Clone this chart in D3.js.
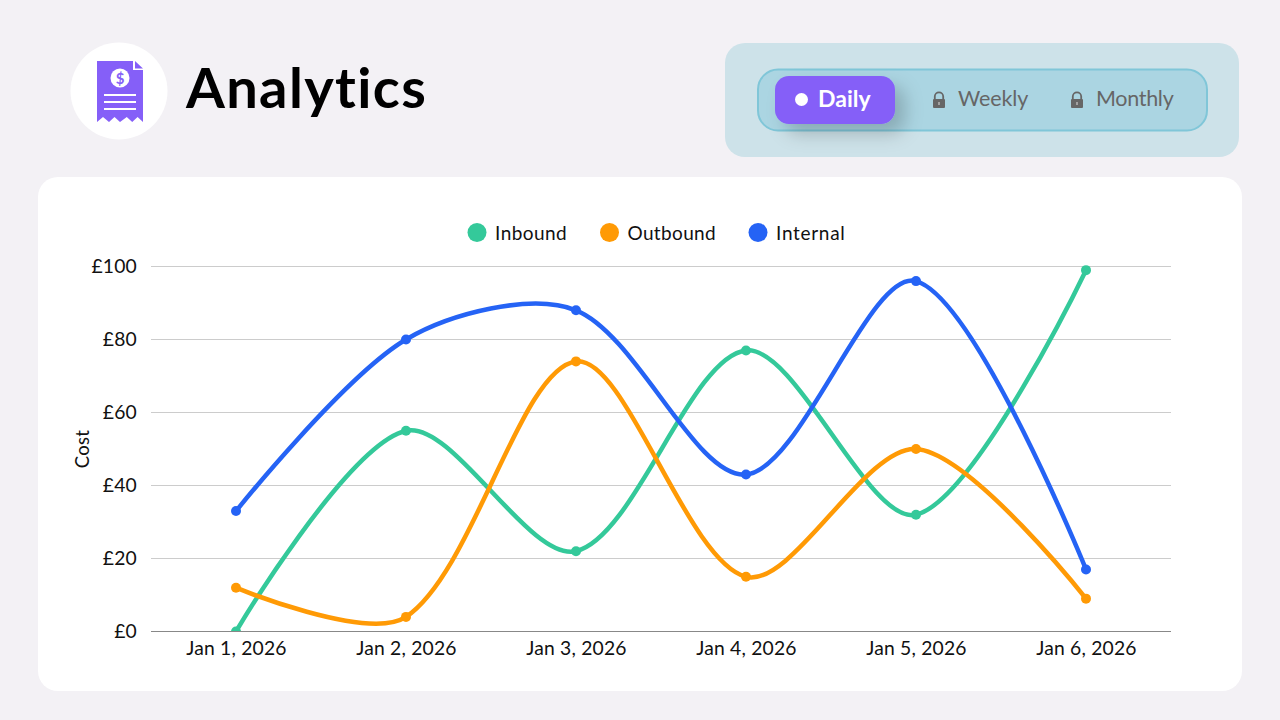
<!DOCTYPE html>
<html><head><meta charset="utf-8">
<script src="https://cdnjs.cloudflare.com/ajax/libs/d3/7.8.5/d3.min.js"></script>
<style>
html,body{margin:0;padding:0;background:#f3f1f5;width:1280px;height:720px;overflow:hidden}
svg{display:block}
text{font-family:Lato,"Open Sans",sans-serif;font-variant-ligatures:none}
</style></head><body>
<svg id="c" width="1280" height="720"></svg>
<script>
const categories=["Jan 1, 2026","Jan 2, 2026","Jan 3, 2026","Jan 4, 2026","Jan 5, 2026","Jan 6, 2026"];
const inbound=[0,55,22,77,32,99];
const outbound=[12,4,74,15,50,9];
const internal=[33,80,88,43,96,17];
const yTicks=[0,20,40,60,80,100];
const seriesNames=["Inbound","Outbound","Internal"];
const seriesColors=["#34c99a","#ff9a05","#2563f5"];
const seriesValues=[inbound,outbound,internal];
const toggleLabels=["Daily","Weekly","Monthly"];

// distance-weighted smoothing spline as a d3 curve factory
function smoothCurve(context,t=0.31){
  let pts;
  return {
    areaStart(){},areaEnd(){},
    lineStart(){pts=[];},
    point(x,y){pts.push([+x,+y]);},
    lineEnd(){
      const n=pts.length, c=[];
      for(let i=1;i<n-1;i++){
        const [x0,y0]=pts[i-1],[x1,y1]=pts[i],[x2,y2]=pts[i+1];
        const a=Math.hypot(x1-x0,y1-y0),b=Math.hypot(x2-x1,y2-y1);
        const fa=t*a/(a+b),fb=t*b/(a+b);
        c[i]=[[x1-fa*(x2-x0),y1-fa*(y2-y0)],[x1+fb*(x2-x0),y1+fb*(y2-y0)]];
      }
      context.moveTo(pts[0][0],pts[0][1]);
      for(let i=1;i<n;i++){
        const c1=i===1?pts[0]:c[i-1][1], c2=i===n-1?pts[n-1]:c[i][0];
        context.bezierCurveTo(c1[0],c1[1],c2[0],c2[1],pts[i][0],pts[i][1]);
      }
    }
  };
}

const svg=d3.select("#c");
const defs=svg.append("defs");
const f=defs.append("filter").attr("id","sh").attr("x","-40%").attr("y","-60%").attr("width","200%").attr("height","240%");
f.append("feDropShadow").attr("dx",10).attr("dy",10).attr("stdDeviation",9).attr("flood-color","#000").attr("flood-opacity",.2);
defs.append("clipPath").attr("id","plot").append("rect").attr("x",0).attr("y",200).attr("width",1280).attr("height",431);

// header
svg.append("circle").attr("cx",119).attr("cy",91).attr("r",48.500).attr("fill","#fff");
const ic=svg.append("g");
ic.append("path").attr("fill","#855ff8").attr("d","M97 61H133V70H143V122L137.600 117L132.200 122L126.800 117L120 122L114.500 117L109 122L103 117L97 122Z");
ic.append("path").attr("fill","#855ff8").attr("d","M135 61L143 68.500H135Z");
ic.append("circle").attr("cx",120).attr("cy",78).attr("r",9.500).attr("fill","#fff");
ic.append("text").attr("x",120).attr("y",83.500).attr("text-anchor","middle").attr("font-size",15).attr("font-weight",700).attr("fill","#855ff8").text("$");
[95,102,109].forEach(y=>ic.append("rect").attr("x",104).attr("y",y-1).attr("width",32).attr("height",2).attr("fill","#fff"));
svg.append("text").attr("x",186).attr("y",108).attr("font-size",56).attr("font-weight",700).attr("letter-spacing",1.350).attr("fill","#000").text("Analytics");

// toggle
svg.append("rect").attr("x",725).attr("y",43).attr("width",514).attr("height",114).attr("rx",20).attr("fill","#cde2e9");
svg.append("rect").attr("x",758).attr("y",69.500).attr("width",449).attr("height",61).attr("rx",20).attr("fill","#abd5e2").attr("stroke","#80c6d8").attr("stroke-width",2);
svg.append("rect").attr("x",775).attr("y",76).attr("width",120).attr("height",48).attr("rx",14).attr("fill","#855ff8").attr("filter","url(#sh)");
svg.append("circle").attr("cx",801.500).attr("cy",99.500).attr("r",6.500).attr("fill","#fff");
svg.append("text").attr("x",818).attr("y",107).attr("font-size",23).attr("font-weight",700).attr("fill","#fff").text(toggleLabels[0]);
function lock(cx){
  const g=svg.append("g").attr("fill","#666");
  g.append("rect").attr("x",cx-6).attr("y",99).attr("width",12).attr("height",9).attr("rx",1);
  g.append("path").attr("fill","none").attr("stroke","#666").attr("stroke-width",1.800).attr("d",`M${cx-4.200} 99V96.500A4.200 4.200 0 0 1 ${cx+4.200} 96.500V99`);
  g.append("rect").attr("x",cx-.7).attr("y",102).attr("width",1.400).attr("height",3).attr("fill","#bbb");
}
lock(939);lock(1077);
svg.append("text").attr("x",958).attr("y",105.500).attr("font-size",21.500).attr("letter-spacing",-.1).attr("fill","#666").text(toggleLabels[1]);
svg.append("text").attr("x",1096).attr("y",105.500).attr("font-size",21.500).attr("letter-spacing",-.3).attr("fill","#666").text(toggleLabels[2]);

// card
svg.append("rect").attr("x",38).attr("y",177).attr("width",1204).attr("height",514).attr("rx",20).attr("fill","#fff");

// scales
const x=d3.scalePoint().domain(categories).range([151,1171]).padding(.5);
const y=d3.scaleLinear().domain([0,100]).range([631.5,266.5]);

// grid + axes
const yAxis=svg.append("g").attr("transform","translate(151,0)").call(d3.axisLeft(y).tickValues(yTicks).tickSize(0).tickPadding(14).offset(0).tickFormat(d=>"£"+d));
yAxis.select(".domain").remove();
yAxis.selectAll(".tick line").attr("x2",1020).attr("stroke",d=>d===0?"#888":"#ccc").attr("stroke-width",1);
yAxis.selectAll("text").attr("font-size",19.300).attr("fill","#111").attr("font-family","Lato").attr("letter-spacing",.2);
const xAxis=svg.append("g").attr("transform","translate(0,632)").call(d3.axisBottom(x).tickSize(0).tickPadding(9.500));
xAxis.select(".domain").remove();
xAxis.selectAll("text").attr("font-size",19.300).attr("fill","#111").attr("font-family","Lato").attr("letter-spacing",.2);
svg.append("text").attr("transform","translate(89,449) rotate(-90)").attr("text-anchor","middle").attr("font-size",18.500).attr("letter-spacing",.3).attr("fill","#111").text("Cost");

// series
const line=d3.line().x((d,i)=>x(categories[i])).y(d=>y(d)).curve(smoothCurve);
const plot=svg.append("g").attr("clip-path","url(#plot)");
seriesValues.forEach((vals,k)=>{
  const g=plot.append("g");
  g.append("path").datum(vals).attr("d",line).attr("fill","none").attr("stroke",seriesColors[k]).attr("stroke-width",4.500);
  g.selectAll("circle").data(vals).join("circle").attr("cx",(d,i)=>x(categories[i])).attr("cy",d=>y(d)).attr("r",5).attr("fill",seriesColors[k]);
});

// legend
const legendX=[477,609.500,758];
const legendSpacing=[.45,.35,.7];
seriesNames.forEach((n,i)=>{
  svg.append("circle").attr("cx",legendX[i]).attr("cy",232.500).attr("r",9.500).attr("fill",seriesColors[i]);
  svg.append("text").attr("x",legendX[i]+18).attr("y",239.500).attr("font-size",19).attr("letter-spacing",legendSpacing[i]).attr("fill","#111").text(n);
});
</script>
</body></html>
